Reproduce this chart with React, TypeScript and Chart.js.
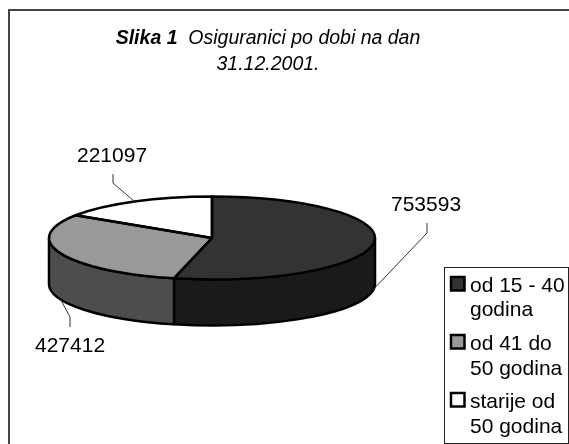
import React, { useEffect, useRef } from "react";
import { Chart, registerables } from "chart.js";

Chart.register(...registerables);

const categories = [["od 15 - 40", "godina"], ["od 41 do", "50 godina"], ["starije od", "50 godina"]];
const values = [753593, 427412, 221097];
const topColors = ["#333333", "#999999", "#ffffff"];
const sideColors = ["#1a1a1a", "#4d4d4d", "#808080"];
const titleBold = "Slika 1";
const titleRest = "  Osiguranici po dobi na dan";
const titleLine2 = "31.12.2001.";

const FONT = '"Liberation Sans", Arial, sans-serif';
const CY = 238;
const RY = 41.5;
const DEPTH = 46;
const OUTLINE = 2.5;

const pie3d = {
  id: "pie3d",
  beforeDatasetsDraw(chart: any) {
    const ctx = chart.ctx as CanvasRenderingContext2D;
    const arcs = chart.getDatasetMeta(0).data;
    const first = arcs[0];
    const cx = first.x;
    const rx = first.outerRadius;
    ctx.save();
    ctx.strokeStyle = "#000";
    ctx.lineWidth = OUTLINE;
    ctx.lineJoin = "round";
    arcs.forEach((arc: any, i: number) => {
      const a = Math.max(arc.startAngle, 0);
      const b = Math.min(arc.endAngle, Math.PI);
      if (b <= a) return;
      ctx.beginPath();
      ctx.ellipse(cx, CY, rx, RY, 0, a, b);
      ctx.ellipse(cx, CY + DEPTH, rx, RY, 0, b, a, true);
      ctx.closePath();
      ctx.fillStyle = sideColors[i];
      ctx.fill();
      ctx.stroke();
    });
    ctx.restore();
    ctx.save();
    ctx.translate(cx, CY);
    ctx.scale(1, RY / rx);
    ctx.translate(-cx, -first.y);
  },
  afterDatasetsDraw(chart: any) {
    const ctx = chart.ctx as CanvasRenderingContext2D;
    ctx.restore();
    const arcs = chart.getDatasetMeta(0).data;
    const cx = arcs[0].x;
    const rx = arcs[0].outerRadius;
    ctx.save();
    ctx.strokeStyle = "#000";
    ctx.lineWidth = OUTLINE;
    ctx.lineJoin = "round";
    arcs.forEach((arc: any) => {
      ctx.beginPath();
      ctx.moveTo(cx, CY);
      ctx.ellipse(cx, CY, rx, RY, 0, arc.startAngle, arc.endAngle);
      ctx.closePath();
      ctx.stroke();
    });
    ctx.restore();

    // leader lines and value labels
    const labelPlace = [
      { text: [391, 211], bend: [427, 233], end: [427, 223] },
      { text: [35, 352], bend: [70, 317], end: [70, 327] },
      { text: [77, 162], bend: [113, 183], end: [113, 174] },
    ];
    ctx.save();
    ctx.strokeStyle = "#333";
    ctx.lineWidth = 1;
    ctx.fillStyle = "#000";
    ctx.font = `21px ${FONT}`;
    ctx.textAlign = "left";
    ctx.textBaseline = "alphabetic";
    arcs.forEach((arc: any, i: number) => {
      const mid = (arc.startAngle + arc.endAngle) / 2;
      const px = cx + rx * Math.cos(mid);
      let py = CY + RY * Math.sin(mid);
      if (Math.sin(mid) > -0.2 && i < 2) py += DEPTH;
      const p = labelPlace[i];
      ctx.beginPath();
      ctx.moveTo(px, py);
      ctx.lineTo(p.bend[0], p.bend[1]);
      ctx.lineTo(p.end[0], p.end[1]);
      ctx.stroke();
      ctx.fillText(String(values[i]), p.text[0], p.text[1]);
    });
    ctx.restore();
  },
  afterDraw(chart: any) {
    const ctx = chart.ctx as CanvasRenderingContext2D;
    ctx.save();
    // outer frame
    ctx.strokeStyle = "#444";
    ctx.lineWidth = 2;
    ctx.beginPath();
    ctx.moveTo(9, 444);
    ctx.lineTo(9, 10);
    ctx.lineTo(569, 10);
    ctx.stroke();

    // title
    ctx.fillStyle = "#000";
    ctx.textBaseline = "alphabetic";
    ctx.textAlign = "left";
    const boldFont = `italic bold 19.5px ${FONT}`;
    const itFont = `italic 19.5px ${FONT}`;
    ctx.font = boldFont;
    const wb = ctx.measureText(titleBold).width;
    ctx.font = itFont;
    const wr = ctx.measureText(titleRest).width;
    const tx = 268 - (wb + wr) / 2;
    ctx.font = boldFont;
    ctx.fillText(titleBold, tx, 44);
    ctx.font = itFont;
    ctx.fillText(titleRest, tx + wb, 44);
    ctx.textAlign = "center";
    ctx.fillText(titleLine2, 268, 70);

    // legend
    ctx.fillStyle = "#fff";
    ctx.fillRect(444, 267, 124, 176);
    ctx.strokeStyle = "#222";
    ctx.lineWidth = 1;
    ctx.strokeRect(444.5, 267.5, 124, 176);
    const rows = [292, 350, 408];
    const next = [316, 375, 433];
    ctx.textAlign = "left";
    ctx.font = `21px ${FONT}`;
    categories.forEach((lines, i) => {
      ctx.fillStyle = topColors[i];
      ctx.fillRect(451, rows[i] - 15, 13.5, 13.5);
      ctx.strokeStyle = "#000";
      ctx.lineWidth = 2.5;
      ctx.strokeRect(451, rows[i] - 15, 13.5, 13.5);
      ctx.fillStyle = "#000";
      ctx.fillText(lines[0], 470, rows[i]);
      ctx.fillText(lines[1], 470, next[i]);
    });
    ctx.restore();
  },
};

export default function App() {
  const ref = useRef<HTMLCanvasElement>(null);
  useEffect(() => {
    const chart = new Chart(ref.current!, {
      type: "pie",
      data: {
        labels: categories.map((l) => l.join(" ")),
        datasets: [{ data: values, backgroundColor: topColors, borderWidth: 0 }],
      },
      options: {
        animation: false,
        responsive: false,
        rotation: 0,
        events: [],
        layout: { padding: { left: 49, right: 194, top: 59, bottom: 59 } },
        plugins: { legend: { display: false }, tooltip: { enabled: false }, title: { display: false } },
      },
      plugins: [pie3d],
    } as any);
    return () => chart.destroy();
  }, []);
  return (
    <div style={{ position: "fixed", left: 0, top: 0, width: 569, height: 444, background: "#fff" }}>
      <canvas ref={ref} width={569} height={444} style={{ display: "block" }} />
    </div>
  );
}
